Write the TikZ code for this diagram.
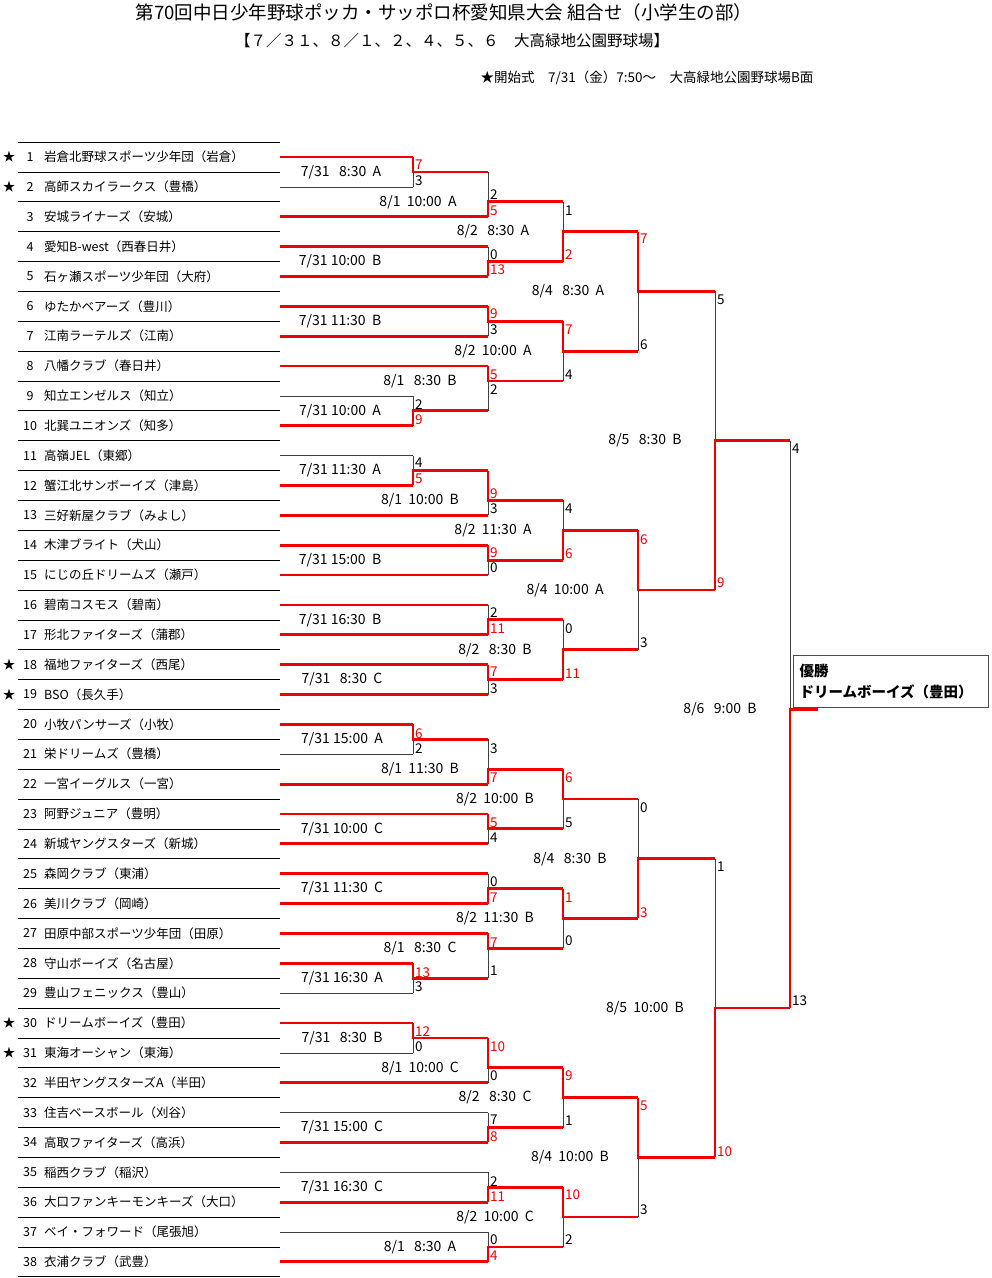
\documentclass[tikz,border=0pt]{standalone}
\usepackage{fontspec}
\setmainfont{Noto Sans CJK JP}
\definecolor{brkred}{RGB}{240,0,0}
\tikzset{
  win/.style={brkred,line width=2.8pt},
  lose/.style={black!75,line width=0.7pt},
  sep/.style={black,line width=0.7pt},
  team/.style={anchor=west,inner sep=0pt,font=\fontsize{12.5}{13}\selectfont},
  num/.style={inner sep=0pt,font=\fontsize{12.5}{13}\selectfont},
  sched/.style={inner sep=0pt,font=\fontsize{14}{15}\selectfont},
  score/.style={anchor=west,inner sep=0pt,font=\fontsize{13.5}{14}\selectfont},
}
% one game: x of the vertical, top, bottom, out (in half rows), winner 0=top 1=bottom, x of next vertical
\newcommand{\game}[6]{%
  \ifnum#5=0
    \draw[lose] (#1,#4) -- (#1,#3);
    \draw[win] (#1,#2) -- (#1,#4) -- (#6,#4);
  \else
    \draw[lose] (#1,#4) -- (#1,#2);
    \draw[win] (#1,#3) -- (#1,#4) -- (#6,#4);
  \fi}
% date, time and field of a game
\newcommand{\when}[3]{\node[sched] at (#1,#2) {#3};}
\begin{document}
\begin{tikzpicture}[x=1pt,y=-14.93pt]
  \useasboundingbox (0,-10.516) rectangle (991,75.08);
  % titles
  \node[inner sep=0pt,font=\fontsize{18.5}{19}\selectfont] (title) at (444,-9.71) {第70回中日少年野球ポッカ・サッポロ杯愛知県大会 組合せ（小学生の部）};
  \node[inner sep=0pt,font=\fontsize{15.5}{16}\selectfont] (dates) at (452,-7.77) {【７／３１、８／１、２、４、５、６　大高緑地公園野球場】};
  \node[inner sep=0pt,font=\fontsize{13.5}{14}\selectfont] (open) at (647,-5.29) {★開始式　7/31（金）7:50～　大高緑地公園野球場B面};
  % row lines
  \foreach \k in {0,...,38}
    \draw[sep] (18,2*\k-1) -- (280,2*\k-1);
  % teams
  \foreach \i/\name in {1/岩倉北野球スポーツ少年団（岩倉）,2/高師スカイラークス（豊橋）,3/安城ライナーズ（安城）,
      4/愛知B-west（西春日井）,5/石ヶ瀬スポーツ少年団（大府）,6/ゆたかベアーズ（豊川）,7/江南ラーテルズ（江南）,
      8/八幡クラブ（春日井）,9/知立エンゼルス（知立）,10/北巽ユニオンズ（知多）,11/高嶺JEL（東郷）,
      12/蟹江北サンボーイズ（津島）,13/三好新屋クラブ（みよし）,14/木津ブライト（犬山）,15/にじの丘ドリームズ（瀬戸）,
      16/碧南コスモス（碧南）,17/形北ファイターズ（蒲郡）,18/福地ファイターズ（西尾）,19/BSO（長久手）,
      20/小牧パンサーズ（小牧）,21/栄ドリームズ（豊橋）,22/一宮イーグルス（一宮）,23/阿野ジュニア（豊明）,
      24/新城ヤングスターズ（新城）,25/森岡クラブ（東浦）,26/美川クラブ（岡崎）,27/田原中部スポーツ少年団（田原）,
      28/守山ボーイズ（名古屋）,29/豊山フェニックス（豊山）,30/ドリームボーイズ（豊田）,31/東海オーシャン（東海）,
      32/半田ヤングスターズA（半田）,33/住吉ベースボール（刈谷）,34/高取ファイターズ（高浜）,35/稲西クラブ（稲沢）,
      36/大口ファンキーモンキーズ（大口）,37/ベイ・フォワード（尾張旭）,38/衣浦クラブ（武豊）} {
    \node[num] (n\i) at (30,2*\i-2) {\i};
    \node[team] (t\i) at (44,2*\i-2) {\name};
  }
  \foreach \i in {1,2,18,19,30,31}
    \node[num] (s\i) at (9,2*\i-2) {★};
  % lines from the teams
  \foreach \i/\c/\xe in {1/win/413,2/lose/413,3/win/488,4/win/488,5/win/488,6/win/488,7/win/488,8/win/488,
      9/lose/413,10/win/413,11/lose/413,12/win/413,13/win/488,14/win/488,15/win/488,16/win/488,17/win/488,
      18/win/488,19/win/488,20/win/413,21/lose/413,22/win/488,23/win/488,24/win/488,25/win/488,26/win/488,
      27/win/488,28/win/413,29/lose/413,30/win/413,31/lose/413,32/win/488,33/lose/488,34/win/488,35/lose/488,
      36/win/488,37/lose/488,38/win/488}
    \draw[\c] (280,2*\i-2) -- (\xe,2*\i-2);
  % games
  \game{413}{0}{2}{1}{0}{488}
  \game{488}{1}{4}{3}{1}{563}
  \game{488}{6}{8}{7}{1}{563}
  \game{563}{3}{7}{5}{1}{638}
  \game{488}{10}{12}{11}{0}{563}
  \game{413}{16}{18}{17}{1}{488}
  \game{488}{14}{17}{15}{0}{563}
  \game{563}{11}{15}{13}{0}{638}
  \game{638}{5}{13}{9}{0}{715}
  \game{413}{20}{22}{21}{1}{488}
  \game{488}{21}{24}{23}{0}{563}
  \game{488}{26}{28}{27}{0}{563}
  \game{563}{23}{27}{25}{1}{638}
  \game{488}{30}{32}{31}{1}{563}
  \game{488}{34}{36}{35}{0}{563}
  \game{563}{31}{35}{33}{1}{638}
  \game{638}{25}{33}{29}{0}{715}
  \game{715}{9}{29}{19}{1}{790}
  \game{413}{38}{40}{39}{0}{488}
  \game{488}{39}{42}{41}{1}{563}
  \game{488}{44}{46}{45}{0}{563}
  \game{563}{41}{45}{43}{0}{638}
  \game{488}{48}{50}{49}{1}{563}
  \game{413}{54}{56}{55}{0}{488}
  \game{488}{52}{55}{53}{0}{563}
  \game{563}{49}{53}{51}{0}{638}
  \game{638}{43}{51}{47}{1}{715}
  \game{413}{58}{60}{59}{0}{488}
  \game{488}{59}{62}{61}{0}{563}
  \game{488}{64}{66}{65}{1}{563}
  \game{563}{61}{65}{63}{0}{638}
  \game{488}{68}{70}{69}{1}{563}
  \game{488}{72}{74}{73}{1}{563}
  \game{563}{69}{73}{71}{0}{638}
  \game{638}{63}{71}{67}{0}{715}
  \game{715}{47}{67}{57}{1}{790}
  \game{790}{19}{57}{37}{1}{818}
  % schedule of each game
  \when{341}{1}{7/31~~~8:30~~A}
  \when{418}{3}{8/1~~10:00~~A}
  \when{493}{5}{8/2~~~8:30~~A}
  \when{340}{7}{7/31 10:00~~B}
  \when{568}{9}{8/4~~~8:30~~A}
  \when{340}{11}{7/31 11:30~~B}
  \when{493}{13}{8/2~~10:00~~A}
  \when{420}{15}{8/1~~~8:30~~B}
  \when{340}{17}{7/31 10:00~~A}
  \when{645}{19}{8/5~~~8:30~~B}
  \when{340}{21}{7/31 11:30~~A}
  \when{420}{23}{8/1~~10:00~~B}
  \when{493}{25}{8/2~~11:30~~A}
  \when{340}{27}{7/31 15:00~~B}
  \when{565}{29}{8/4~~10:00~~A}
  \when{340}{31}{7/31 16:30~~B}
  \when{495}{33}{8/2~~~8:30~~B}
  \when{342}{35}{7/31~~~8:30~~C}
  \when{720}{37}{8/6~~~9:00~~B}
  \when{342}{39}{7/31 15:00~~A}
  \when{420}{41}{8/1~~11:30~~B}
  \when{495}{43}{8/2~~10:00~~B}
  \when{342}{45}{7/31 10:00~~C}
  \when{570}{47}{8/4~~~8:30~~B}
  \when{342}{49}{7/31 11:30~~C}
  \when{495}{51}{8/2~~11:30~~B}
  \when{420}{53}{8/1~~~8:30~~C}
  \when{342}{55}{7/31 16:30~~A}
  \when{645}{57}{8/5~~10:00~~B}
  \when{342}{59}{7/31~~~8:30~~B}
  \when{420}{61}{8/1~~10:00~~C}
  \when{495}{63}{8/2~~~8:30~~C}
  \when{342}{65}{7/31 15:00~~C}
  \when{570}{67}{8/4~~10:00~~B}
  \when{342}{69}{7/31 16:30~~C}
  \when{495}{71}{8/2~~10:00~~C}
  \when{420}{73}{8/1~~~8:30~~A}
  % scores
  \foreach \x/\t/\v/\c in {415/0.54/7/brkred,415/1.61/3/black,490/2.55/2/black,490/3.62/5/brkred,
      490/6.56/0/black,490/7.57/13/brkred,565/3.6/1/black,565/6.56/2/brkred,490/10.5/9/brkred,490/11.59/3/black,
      490/14.6/5/brkred,490/15.6/2/black,415/16.6/2/black,415/17.6/9/brkred,565/11.59/7/brkred,565/14.6/4/black,
      640/5.5/7/brkred,640/12.6/6/black,717/9.58/5/black,717/28.5/9/brkred,792/19.56/4/black,792/56.5/13/black,
      415/20.5/4/black,415/21.57/5/brkred,490/22.57/9/brkred,490/23.58/3/black,490/26.52/9/brkred,490/27.53/0/black,
      565/23.58/4/black,565/26.6/6/brkred,490/30.5/2/black,490/31.6/11/brkred,490/34.5/7/brkred,490/35.6/3/black,
      565/31.6/0/black,565/34.6/11/brkred,640/25.6/6/brkred,640/32.55/3/black,415/38.6/6/brkred,415/39.6/2/black,
      490/39.6/3/black,490/41.6/7/brkred,490/44.6/5/brkred,490/45.6/4/black,565/41.6/6/brkred,565/44.6/5/black,
      490/48.56/0/black,490/49.6/7/brkred,415/54.6/13/brkred,415/55.6/3/black,490/52.6/7/brkred,490/54.5/1/black,
      565/49.6/1/brkred,565/52.5/0/black,640/43.6/0/black,640/50.6/3/brkred,717/47.56/1/black,717/66.6/10/brkred,
      415/58.6/12/brkred,415/59.6/0/black,490/59.6/10/brkred,490/61.55/0/black,490/64.5/7/black,490/65.6/8/brkred,
      565/61.55/9/brkred,565/64.57/1/black,490/68.6/2/black,490/69.6/11/brkred,490/72.5/0/black,490/73.6/4/brkred,
      565/69.5/10/brkred,565/72.5/2/black,640/63.56/5/brkred,640/70.5/3/black}
    \node[score,text=\c] at (\x,\t) {\v};
  % champion
  \node[draw=black!70,line width=0.8pt,fill=white,minimum width=195pt,minimum height=52pt,
        text width=182pt,align=left,inner sep=0pt,font=\fontsize{14.5}{21}\selectfont\bfseries]
        (champ) at (890.5,35.15) {優勝\\ドリームボーイズ（豊田）};
  \draw[win] (790,37) -- (818,37);
\end{tikzpicture}
\end{document}
